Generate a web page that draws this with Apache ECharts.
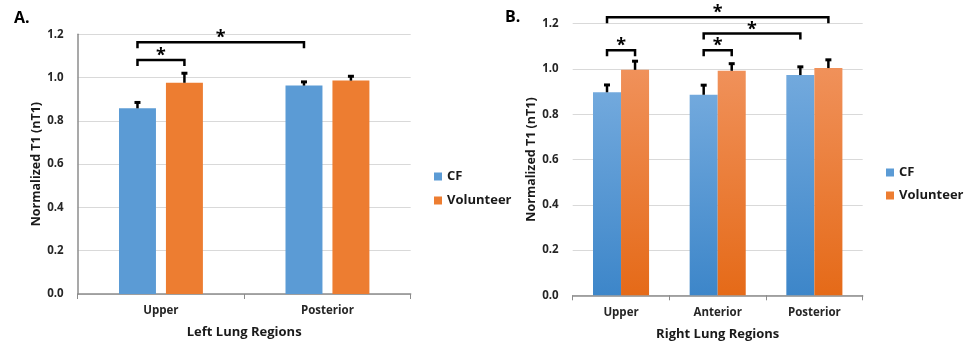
<!DOCTYPE html>
<html>
<head>
<meta charset="utf-8">
<script src="https://cdn.jsdelivr.net/npm/echarts@6/dist/echarts.min.js"></script>
<style>html,body{margin:0;padding:0;background:#fff;}#c{width:968px;height:348px;}</style>
</head>
<body>
<div id="c"></div>
<script>
// ---- data ----
const categoriesA = ['Upper', 'Posterior'];
const cfA = [0.858, 0.963];
const volA = [0.976, 0.986];
const cfErrA = [0.034, 0.024];
const volErrA = [0.051, 0.027];
// brackets: [cat1, side1, cat2, side2, level]  side: -1 = CF bar, 1 = Volunteer bar
const bracketsA = [[0, -1, 0, 1, 1.081], [0, -1, 1, -1, 1.163]];

const categoriesB = ['Upper', 'Anterior', 'Posterior'];
const cfB = [0.897, 0.886, 0.973];
const volB = [0.996, 0.992, 1.004];
const cfErrB = [0.039, 0.049, 0.043];
const volErrB = [0.045, 0.038, 0.043];
const bracketsB = [[0, -1, 0, 1, 1.083], [1, -1, 1, 1, 1.083], [1, -1, 2, -1, 1.157], [0, -1, 2, 1, 1.228]];

const yTicks = [0, 0.2, 0.4, 0.6, 0.8, 1.0, 1.2];

// ---- layout/style ----
const FONT = "'Open Sans', 'Noto Sans', 'DejaVu Sans', sans-serif";
const layoutA = {frac: 0.222, gap: 0.27};
const layoutB = {frac: 0.29, gap: 0.0};

function errSeries(xi, vals, errs, side, lay) {
  return {
    type: 'custom', xAxisIndex: xi, yAxisIndex: xi, z: 5, clip: false, silent: true,
    data: vals.map((v, i) => [i, v, errs[i], side]),
    renderItem: function (params, api) {
      const cat = api.value(0), v = api.value(1), e = api.value(2), s = api.value(3);
      const base = api.coord([cat, v]);
      const top = api.coord([cat, v + e]);
      const band = api.size([1, 0])[0];
      const bw = band * lay.frac;
      const x = base[0] + s * bw * (1 + lay.gap) / 2;
      return {
        type: 'group', children: [
          {type: 'line', shape: {x1: x, y1: base[1], x2: x, y2: top[1] + 1}, style: {stroke: '#000', lineWidth: 2.5}},
          {type: 'rect', shape: {x: x - 3, y: top[1], width: 6, height: 3}, style: {fill: '#000'}}
        ]
      };
    }
  };
}

function bracketSeries(xi, brackets, lay) {
  return {
    type: 'custom', xAxisIndex: xi, yAxisIndex: xi, z: 6, clip: false, silent: true,
    data: brackets,
    renderItem: function (params, api) {
      const band = api.size([1, 0])[0];
      const bw = band * lay.frac;
      const off = bw * (1 + lay.gap) / 2;
      const p1 = api.coord([api.value(0), api.value(4)]);
      const p2 = api.coord([api.value(2), api.value(4)]);
      const x1 = p1[0] + api.value(1) * off;
      const x2 = p2[0] + api.value(3) * off;
      const y = p1[1];
      return {
        type: 'group', children: [
          {type: 'polyline', shape: {points: [[x1, y + 6], [x1, y], [x2, y], [x2, y + 6]]},
            style: {stroke: '#000', lineWidth: 2.5, fill: null}},
          {type: 'text', x: (x1 + x2) / 2, y: y + 5,
            style: {text: '*', fill: '#000', font: 'bold 18px ' + FONT, align: 'center', verticalAlign: 'bottom'}}
        ]
      };
    }
  };
}

function xAxis(gi, cats, name) {
  return {
    type: 'category', gridIndex: gi, data: cats, boundaryGap: true,
    axisLine: {lineStyle: {color: '#8c8c8c', width: 1.5}},
    axisTick: {show: true, alignWithLabel: false, length: 5, lineStyle: {color: '#8c8c8c'}},
    axisLabel: {color: '#262626', fontFamily: FONT, fontWeight: 'bold', fontSize: 11.5, margin: 11},
    name: name, nameLocation: 'middle', nameGap: 32,
    nameTextStyle: {color: '#1a1a1a', fontFamily: FONT, fontWeight: 'bold', fontSize: 13}
  };
}
function yAxis(gi, showLine) {
  return {
    type: 'value', gridIndex: gi, min: 0, max: 1.2, interval: 0.2,
    axisLine: {show: showLine, lineStyle: {color: '#8c8c8c', width: 1.5}},
    axisTick: {show: false},
    splitLine: {lineStyle: {color: '#d9d9d9', width: 1}},
    axisLabel: {color: '#262626', fontFamily: FONT, fontWeight: 'bold', fontSize: 11.5, margin: 14,
      formatter: v => yTicks.includes(Math.round(v * 10) / 10) ? v.toFixed(1) : ''},
    name: 'Normalized T1 (nT1)', nameLocation: 'middle', nameGap: 35, nameRotate: 90,
    nameTextStyle: {color: '#1a1a1a', fontFamily: FONT, fontWeight: 'bold', fontSize: 12.5}
  };
}

const gradCF = new echarts.graphic.LinearGradient(0, 0, 0, 1, [{offset: 0, color: '#72a9dd'}, {offset: 1, color: '#3d86c9'}]);
const gradVol = new echarts.graphic.LinearGradient(0, 0, 0, 1, [{offset: 0, color: '#f0915a'}, {offset: 1, color: '#e56a18'}]);

const chart = echarts.init(document.getElementById('c'), null, {renderer: 'canvas'});
chart.setOption({
  backgroundColor: '#fff',
  animation: false,
  title: [
    {text: 'A.', left: 9, top: 5, textStyle: {fontFamily: FONT, fontWeight: 'bold', fontSize: 16, color: '#000'}},
    {text: 'B.', left: 500, top: 4, textStyle: {fontFamily: FONT, fontWeight: 'bold', fontSize: 16, color: '#000'}}
  ],
  legend: [
    {left: 429, top: 165, orient: 'vertical', itemWidth: 8, itemHeight: 8, itemGap: 11, icon: 'rect',
      textStyle: {fontFamily: FONT, fontWeight: 'bold', fontSize: 13, color: '#1a1a1a'},
      data: [{name: 'CF', itemStyle: {color: '#5b9bd5'}}, {name: 'Volunteer', itemStyle: {color: '#ed7d31'}}]},
    {left: 881, top: 161, orient: 'vertical', itemWidth: 8, itemHeight: 8, itemGap: 10, icon: 'rect',
      textStyle: {fontFamily: FONT, fontWeight: 'bold', fontSize: 13, color: '#1a1a1a'},
      data: [{name: 'CF', itemStyle: {color: '#5b9bd5'}}, {name: 'Volunteer', itemStyle: {color: '#ed7d31'}}]}
  ],
  grid: [
    {left: 77.7, right: 557.3, top: 34.3, bottom: 54, containLabel: false},
    {left: 572.7, right: 105.3, top: 23.7, bottom: 52.7, containLabel: false}
  ],
  xAxis: [xAxis(0, categoriesA, 'Left Lung Regions'), xAxis(1, categoriesB, 'Right Lung Regions')],
  yAxis: [yAxis(0, true), yAxis(1, false)],
  series: [
    {name: 'CF', type: 'bar', xAxisIndex: 0, yAxisIndex: 0, data: cfA, barWidth: (layoutA.frac * 100) + '%', barGap: (layoutA.gap * 100) + '%', itemStyle: {color: '#5b9bd5'}},
    {name: 'Volunteer', type: 'bar', xAxisIndex: 0, yAxisIndex: 0, data: volA, barWidth: (layoutA.frac * 100) + '%', barGap: (layoutA.gap * 100) + '%', itemStyle: {color: '#ed7d31'}},
    {name: 'CF', type: 'bar', xAxisIndex: 1, yAxisIndex: 1, data: cfB, barWidth: (layoutB.frac * 100) + '%', barGap: '0%', itemStyle: {color: gradCF}},
    {name: 'Volunteer', type: 'bar', xAxisIndex: 1, yAxisIndex: 1, data: volB, barWidth: (layoutB.frac * 100) + '%', barGap: '0%', itemStyle: {color: gradVol}},
    errSeries(0, cfA, cfErrA, -1, layoutA),
    errSeries(0, volA, volErrA, 1, layoutA),
    errSeries(1, cfB, cfErrB, -1, layoutB),
    errSeries(1, volB, volErrB, 1, layoutB),
    bracketSeries(0, bracketsA, layoutA),
    bracketSeries(1, bracketsB, layoutB)
  ]
});
</script>
</body>
</html>
